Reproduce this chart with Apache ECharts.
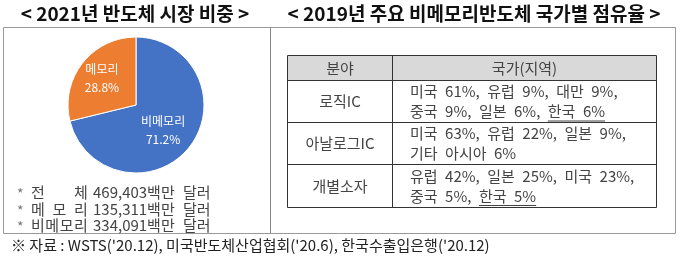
<!DOCTYPE html>
<html><head><meta charset="utf-8">
<script src="https://cdn.jsdelivr.net/npm/echarts@6/dist/echarts.min.js"></script>
<style>html,body{margin:0;padding:0;background:#fff}#c{width:680px;height:259px}</style>
</head><body><div id="c"></div>
<script>
const titles = ['< 2021년 반도체 시장 비중 >', '< 2019년 주요 비메모리반도체 국가별 점유율 >'];
const pieNames = ['비메모리', '메모리'];
const pieValues = [71.2, 28.8];
const noteLabels = ['전체', '메모리', '비메모리'];
const noteAmounts = ['469,403', '135,311', '334,091'];
const noteUnit = ['백만', '달러'];
const tableHeader = ['분야', '국가(지역)'];
const fields = ['로직IC', '아날로그IC', '개별소자'];
const shareLines = [
  ['미국 61%, 유럽 9%, 대만 9%,', '중국 9%, 일본 6%, '],
  ['미국 63%, 유럽 22%, 일본 9%,', '기타 아시아 6%'],
  ['유럽 42%, 일본 25%, 미국 23%,', '중국 5%, ']
];
const koreaShare = ['한국 6%', '', '한국 5%'];
const sourceText = "※ 자료 : WSTS('20.12), 미국반도체산업협회('20.6), 한국수출입은행('20.12)";

const FF = '"Noto Sans CJK KR", "Noto Sans", sans-serif';
const cv = document.createElement('canvas').getContext('2d');
function tw(t, font) { cv.font = font; return cv.measureText(t).width; }
const wide = s => s.replace(/ /g, '\u2002');

const g = [];
// titles
g.push({type:'text', style:{text:titles[0], x:135, y:14, textAlign:'center', textVerticalAlign:'middle', font:'bold 19px ' + FF, fill:'#111'}});
g.push({type:'text', style:{text:titles[1], x:474, y:14, textAlign:'center', textVerticalAlign:'middle', font:'bold 19px ' + FF, fill:'#111'}});
// outer boxes
g.push({type:'rect', shape:{x:3.5, y:27.5, width:672, height:206}, style:{fill:'none', stroke:'#999', lineWidth:1}});
g.push({type:'line', shape:{x1:270.5, y1:27.5, x2:270.5, y2:233.5}, style:{stroke:'#888', lineWidth:1}});
// notes
const noteFont = '15px ' + FF;
const noteY = [192, 209, 225];
noteLabels.forEach((lab, i) => {
  g.push({type:'text', style:{text:'*', x:17, y:noteY[i]+2, textAlign:'left', textVerticalAlign:'middle', font:'14px ' + FF, fill:'#777'}});
  const chars = lab.split('');
  const x0 = 31, x1 = 89, cw = 15;
  chars.forEach((ch, j) => {
    const x = chars.length === 1 ? x0 : x0 + j * (x1 - cw - x0) / (chars.length - 1);
    g.push({type:'text', style:{text:ch, x:x, y:noteY[i], textAlign:'left', textVerticalAlign:'middle', font:noteFont, fill:'#444'}});
  });
  g.push({type:'text', style:{text:noteAmounts[i] + noteUnit[0], x:93, y:noteY[i], textAlign:'left', textVerticalAlign:'middle', font:noteFont, fill:'#444'}});
  g.push({type:'text', style:{text:noteUnit[1], x:183, y:noteY[i], textAlign:'left', textVerticalAlign:'middle', font:noteFont, fill:'#444'}});
});
// source
g.push({type:'text', style:{text:sourceText, x:11, y:245, textAlign:'left', textVerticalAlign:'middle', font:'15px ' + FF, fill:'#222'}});
// table
const TX0 = 287.5, TX1 = 656.5, TXM = 392.5;
const rowY = [55.5, 80.5, 122.5, 164.5, 207.5];
g.push({type:'rect', shape:{x:TX0, y:rowY[0], width:TX1-TX0, height:rowY[1]-rowY[0]}, style:{fill:'#d9d9d9', stroke:'none'}});
rowY.forEach(y => g.push({type:'line', shape:{x1:TX0, y1:y, x2:TX1, y2:y}, style:{stroke:'#333', lineWidth:1}}));
[TX0, TXM, TX1].forEach(x => g.push({type:'line', shape:{x1:x, y1:rowY[0], x2:x, y2:rowY[4]}, style:{stroke:'#333', lineWidth:1}}));
const tFont = '15px ' + FF;
g.push({type:'text', style:{text:tableHeader[0], x:(TX0+TXM)/2, y:68, textAlign:'center', textVerticalAlign:'middle', font:tFont, fill:'#444'}});
g.push({type:'text', style:{text:tableHeader[1], x:(TXM+TX1)/2, y:68, textAlign:'center', textVerticalAlign:'middle', font:tFont, fill:'#444'}});
fields.forEach((f, i) => {
  const cy = (rowY[i+1] + rowY[i+2]) / 2;
  g.push({type:'text', style:{text:f, x:(TX0+TXM)/2, y:cy, textAlign:'center', textVerticalAlign:'middle', font:tFont, fill:'#444'}});
  const y1 = cy - 10, y2 = cy + 10;
  g.push({type:'text', style:{text:wide(shareLines[i][0]), x:410, y:y1, textAlign:'left', textVerticalAlign:'middle', font:tFont, fill:'#444'}});
  g.push({type:'text', style:{text:wide(shareLines[i][1]), x:410, y:y2, textAlign:'left', textVerticalAlign:'middle', font:tFont, fill:'#444'}});
  if (koreaShare[i]) {
    const xk = 410 + tw(wide(shareLines[i][1]), tFont);
    const wk = tw(wide(koreaShare[i]), tFont);
    g.push({type:'text', style:{text:wide(koreaShare[i]), x:xk, y:y2, textAlign:'left', textVerticalAlign:'middle', font:tFont, fill:'#444'}});
    g.push({type:'line', shape:{x1:xk, y1:y2+9.5, x2:xk+wk, y2:y2+9.5}, style:{stroke:'#444', lineWidth:1}});
  }
});

const chart = echarts.init(document.getElementById('c'), null, {renderer:'canvas'});
chart.setOption({
  animation:false,
  backgroundColor:'#fff',
  graphic:g,
  series:[{
    type:'pie', center:[136,105], radius:[0,68], startAngle:90, clockwise:true,
    itemStyle:{borderColor:'#fff', borderWidth:1},
    label:{show:true, position:'inside', color:'#fff', fontSize:12, fontFamily:FF, lineHeight:18,
      formatter: p => p.name + '\n' + p.value.toFixed(1) + '%'},
    labelLine:{show:false},
    labelLayout: p => p.dataIndex === 1 ? {dx:-5, dy:-4} : {dx:-2, dy:3},
    data: pieNames.map((n, i) => ({name:n, value:pieValues[i], itemStyle:{color: i === 0 ? '#4472c4' : '#ed7d31'}}))
  }]
});
</script></body></html>
